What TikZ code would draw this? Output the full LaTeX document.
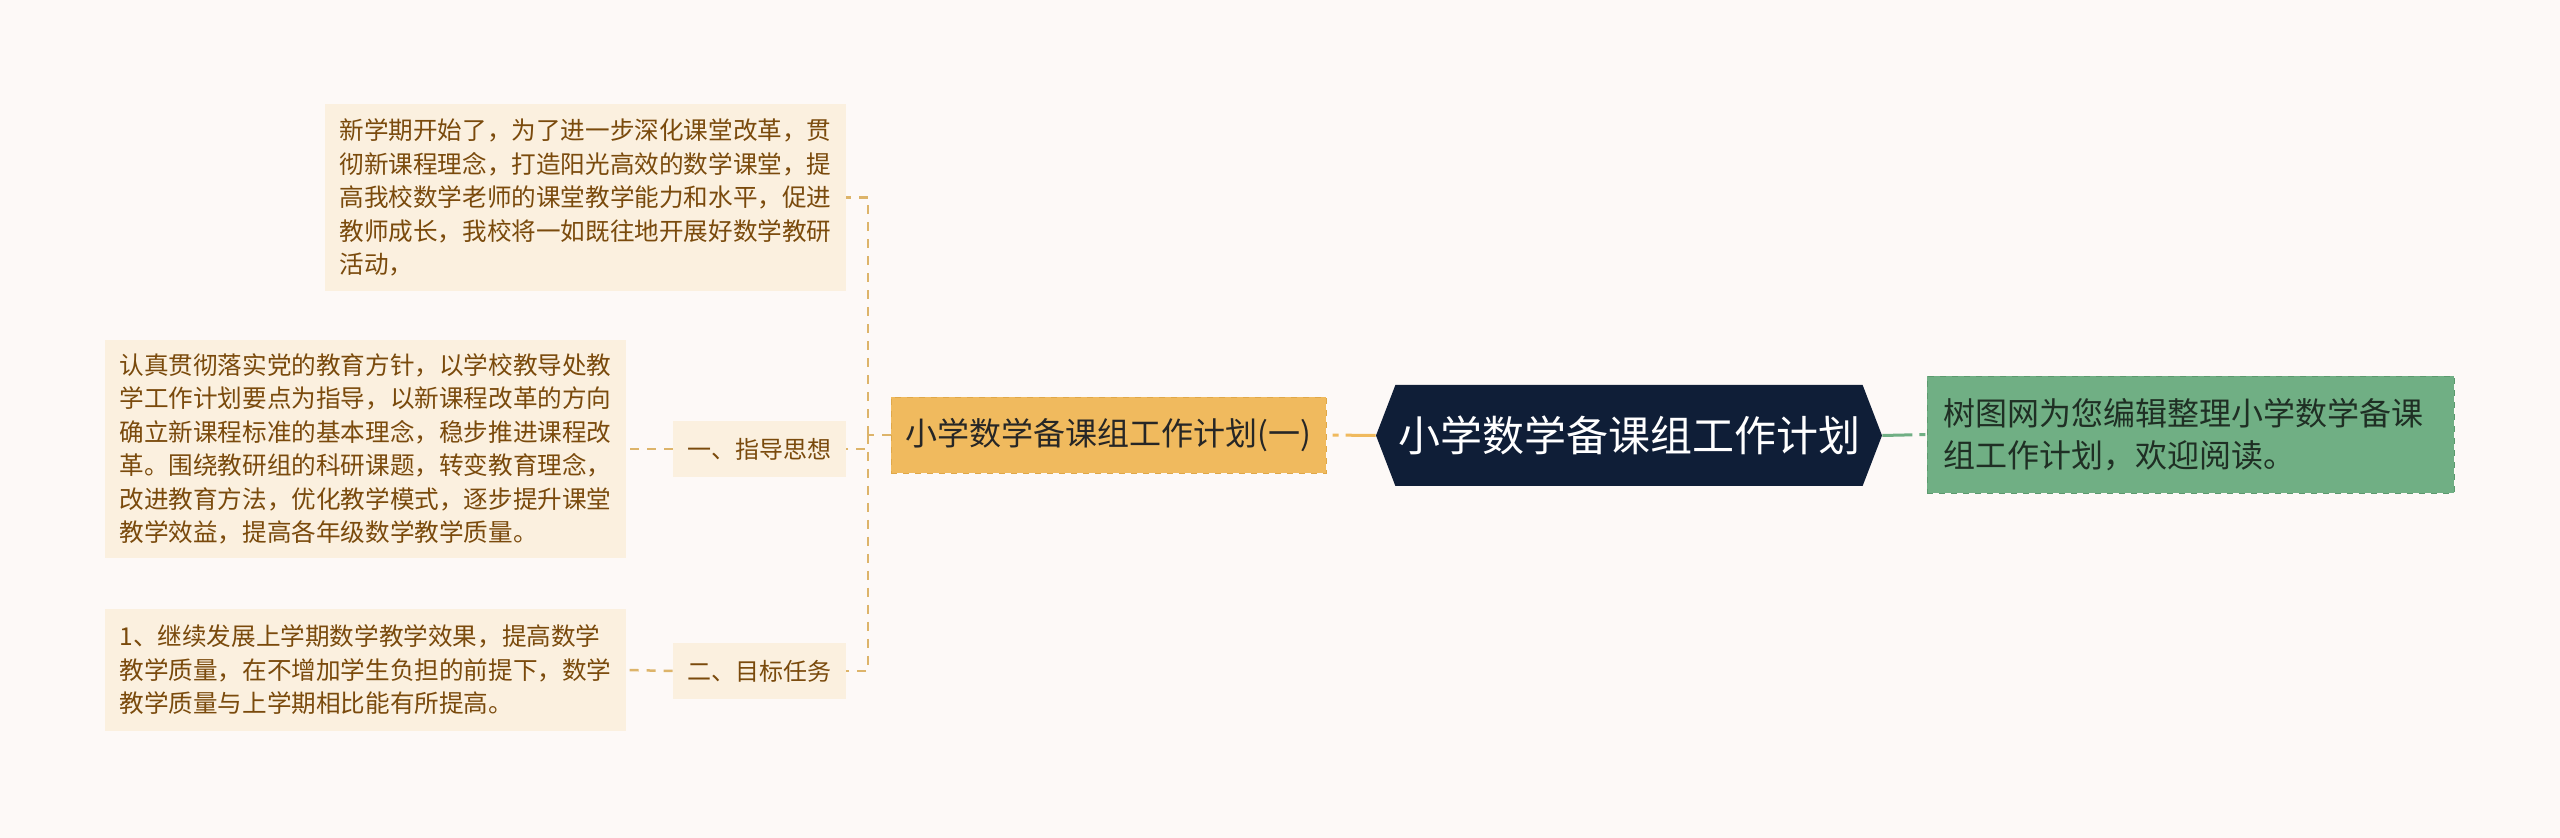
\documentclass[tikz,border=0pt]{standalone}
\usepackage{fontspec}
\setmainfont{Noto Sans CJK SC}
\usetikzlibrary{shapes.symbols}
\definecolor{pagebg}{HTML}{FDF9F7}
\definecolor{notefill}{HTML}{FBF0DF}
\definecolor{notetext}{HTML}{7A4A0C}
\definecolor{subfill}{HTML}{F0BA5E}
\definecolor{subline}{HTML}{E0A848}
\definecolor{rootfill}{HTML}{0F1E37}
\definecolor{tipfill}{HTML}{70AF84}
\definecolor{tipline}{HTML}{5C9A6E}
\definecolor{tiptext}{HTML}{1F2F24}
\definecolor{linkcol}{HTML}{DDB46A}

\begin{document}
\begin{tikzpicture}[x=0.5pt,y=-0.5pt,
    notebox/.style={fill=notefill, text=notetext, font=\fontsize{12.3}{16.75}\selectfont,
      align=left, text width=246pt, inner xsep=7.25pt, inner ysep=0pt},
    headbox/.style={fill=notefill, text=notetext, font=\fontsize{12}{14}\selectfont,
      minimum width=86.5pt, minimum height=28pt, inner sep=0pt},
    subbox/.style={fill=subfill, draw=subline, dashed, text=black!85, font=\fontsize{16}{18}\selectfont,
      minimum width=217.5pt, minimum height=38pt, inner sep=0pt},
    rootbox/.style={signal, signal to=east and west, signal pointer angle=138, fill=rootfill,
      text=white, font=\fontsize{21}{24}\selectfont, minimum width=253pt, minimum height=50.5pt, inner sep=0pt},
    tipbox/.style={fill=tipfill, draw=tipline, dashed, text=tiptext, font=\fontsize{16}{21}\selectfont,
      align=left, text width=247pt, inner xsep=8.25pt, minimum height=58.5pt},
    link/.style={draw=linkcol, line width=1.25pt, dash pattern=on 4.5pt off 4pt},
    mainlink/.style={line width=1.5pt, dash pattern=on 15pt off 3.5pt on 3pt off 5pt}]

    % page
    \fill[pagebg] (0,0) rectangle (2560,838);
    \useasboundingbox (0,0) rectangle (2560,838);

    % centre and right side
    \node[rootbox] (root) at (1629,435.5) {小学数学备课组工作计划};
    \node[subbox] (plan) at (1108.5,435) {小学数学备课组工作计划(一)};
    \node[tipbox] (tip) at (2190.5,434.5) {树图网为您编辑整理小学数学备课\\组工作计划，欢迎阅读。};

    % headings
    \node[headbox] (guide) at (759.5,449) {一、指导思想};
    \node[headbox] (goal) at (759.5,671) {二、目标任务};

    % notes
    \node[notebox, minimum height=93.5pt] (intro) at (585.5,197.5)
      {新学期开始了，为了进一步深化课堂改革，贯\\彻新课程理念，打造阳光高效的数学课堂，提\\高我校数学老师的课堂教学能力和水平，促进\\教师成长，我校将一如既往地开展好数学教研\\活动，};
    \node[notebox, minimum height=109pt] (guidetext) at (365.5,449)
      {认真贯彻落实党的教育方针，以学校教导处教\\学工作计划要点为指导，以新课程改革的方向\\确立新课程标准的基本理念，稳步推进课程改\\革。围绕教研组的科研课题，转变教育理念，\\改进教育方法，优化教学模式，逐步提升课堂\\教学效益，提高各年级数学教学质量。};
    \node[notebox, minimum height=61pt] (goaltext) at (365.5,670)
      {1、继续发展上学期数学教学效果，提高数学\\教学质量，在不增加学生负担的前提下，数学\\教学质量与上学期相比能有所提高。};

    % connectors
    \coordinate (trunk) at (868,435);
    \draw[mainlink, draw=subfill] (root.west) -- (plan.east);
    \draw[mainlink, draw=tipfill] (root.east) -- (tip.west);
    \draw[link] (plan.west) -- (trunk);
    \draw[link] (trunk) |- (intro.east);
    \draw[link] (trunk) |- (guide.east);
    \draw[link] (trunk) |- (goal.east);
    \draw[link] (guide.west) -- (guidetext.east);
    \draw[link] (goal.west) -- (goaltext.east);
\end{tikzpicture}
\end{document}
